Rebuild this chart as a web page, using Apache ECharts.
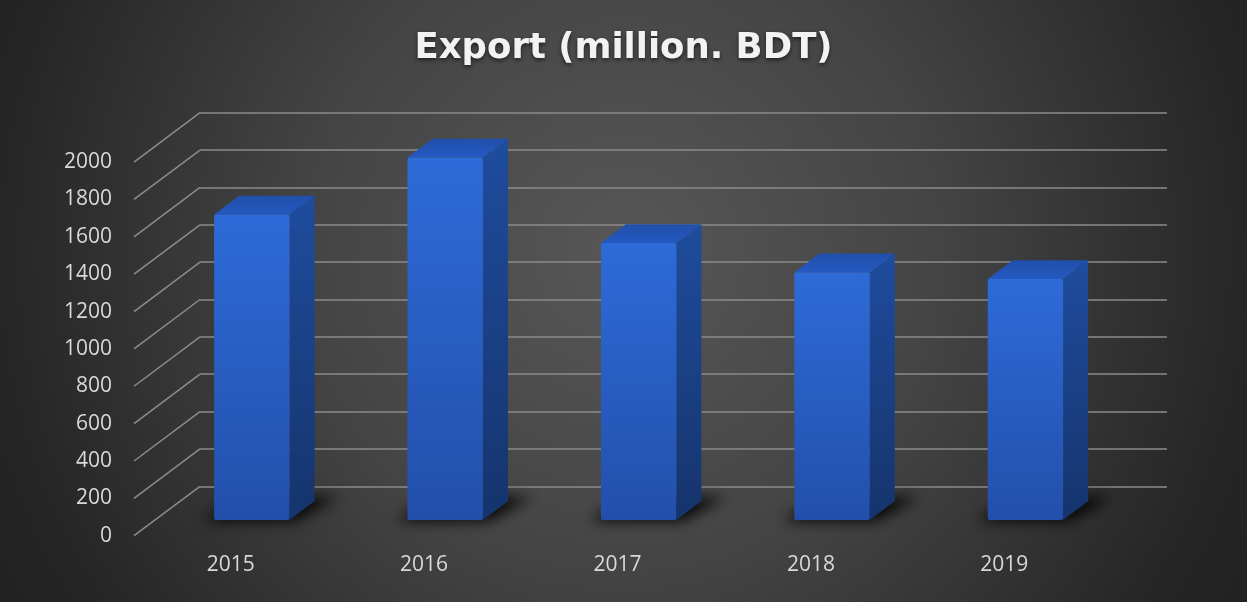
<!DOCTYPE html>
<html>
<head>
<meta charset="utf-8">
<script src="https://cdn.jsdelivr.net/npm/echarts@6/dist/echarts.min.js"></script>
<style>
  html, body { margin: 0; padding: 0; background: #2b2b2b; }
  #chart { width: 1247px; height: 602px; }
</style>
</head>
<body>
<div id="chart"></div>
<script>
// ---- data ----
const years = ['2015', '2016', '2017', '2018', '2019'];
const exportValues = [1635, 1940, 1482, 1325, 1290];
const yTicks = [0, 200, 400, 600, 800, 1000, 1200, 1400, 1600, 1800, 2000];
const titleText = 'Export (million. BDT)';

// ---- oblique 3D layout ----
// offset (px) from the back wall to the front edge of the floor
const DEPTH = [-66, 49.4];
// back wall rectangle
const BACK = { left: 200, right: 80, top: 112.7, bottom: 115.7 };
// the front plane is the back wall pushed forward by DEPTH
const FRONT = {
  left: BACK.left + DEPTH[0],
  right: BACK.right - DEPTH[0],
  top: BACK.top + DEPTH[1],
  bottom: BACK.bottom - DEPTH[1]
};
// bar front/back faces as a fraction of the depth
const BAR_FRONT = 0.68;
const BAR_BACK = 0.30;
const BAR_WIDTH = 0.39; // share of category band
const SHADOW_SHIFT = 4000; // shadow shape drawn off-canvas, only its blur is shown

const FONT = '"Open Sans", "Noto Sans", sans-serif';
const LABEL_COLOR = '#d9d9d9';
const GRID_COLOR = '#8b8b8b';

function renderBar(params, api) {
  const i = api.value(0);
  const v = api.value(1);
  const base = api.coord([i, 0]);
  const top = api.coord([i, v]);
  const w = api.size([1, 0])[0] * BAR_WIDTH;
  const x0 = base[0] - w / 2;
  const x1 = base[0] + w / 2;
  const fdx = DEPTH[0] * BAR_FRONT, fdy = DEPTH[1] * BAR_FRONT;
  const bdx = DEPTH[0] * BAR_BACK, bdy = DEPTH[1] * BAR_BACK;
  const fl = x0 + fdx, fr = x1 + fdx, fb = base[1] + fdy, ft = top[1] + fdy;
  const bl = x0 + bdx, br = x1 + bdx, bb = base[1] + bdy, bt = top[1] + bdy;

  const footprint = [[fl - 12, fb + 1], [fr + 6, fb + 1], [br + 24, bb - 4], [bl + 2, bb - 4]]
    .map(p => [p[0] - SHADOW_SHIFT, p[1]]);

  return {
    type: 'group',
    children: [
      // soft floor shadow
      {
        type: 'polygon',
        shape: { points: footprint },
        style: {
          fill: '#000',
          shadowBlur: 14,
          shadowOffsetX: SHADOW_SHIFT,
          shadowColor: 'rgba(0,0,0,0.9)'
        },
        silent: true
      },
      // right side face
      {
        type: 'polygon',
        shape: { points: [[fr, ft], [br, bt], [br, bb], [fr, fb]] },
        style: {
          fill: {
            type: 'linear', x: 0, y: 0, x2: 0, y2: 1,
            colorStops: [
              { offset: 0, color: '#1f4c9e' },
              { offset: 1, color: '#15346c' }
            ]
          }
        }
      },
      // top face
      {
        type: 'polygon',
        shape: { points: [[fl, ft], [fr, ft], [br, bt], [bl, bt]] },
        style: {
          fill: {
            type: 'linear', x: 0, y: 1, x2: 0, y2: 0,
            colorStops: [
              { offset: 0, color: '#2459c1' },
              { offset: 1, color: '#214fab' }
            ]
          }
        }
      },
      // front face
      {
        type: 'rect',
        shape: { x: fl, y: ft, width: fr - fl, height: fb - ft, r: 2 },
        style: {
          fill: {
            type: 'linear', x: 0, y: 0, x2: 0, y2: 1,
            colorStops: [
              { offset: 0, color: '#2d6bd8' },
              { offset: 1, color: '#234fab' }
            ]
          }
        }
      }
    ]
  };
}

function renderDiagonal(params, api) {
  const y = api.coord([0, api.value(1)])[1];
  const x = params.coordSys.x;
  return {
    type: 'line',
    shape: { x1: x + DEPTH[0], y1: y + DEPTH[1], x2: x, y2: y },
    style: { stroke: GRID_COLOR, lineWidth: 1.5 },
    silent: true
  };
}

const chart = echarts.init(document.getElementById('chart'), null, { renderer: 'canvas' });

chart.setOption({
  animation: false,
  backgroundColor: {
    type: 'radial', x: 0.5, y: 0.42, r: 1.17,
    colorStops: [
      { offset: 0, color: '#575757' },
      { offset: 0.45, color: '#444444' },
      { offset: 0.9, color: '#252525' },
      { offset: 1, color: '#222222' }
    ]
  },
  title: {
    text: titleText,
    left: 'center',
    top: 26,
    textStyle: {
      fontFamily: '"DejaVu Sans", "Open Sans", sans-serif',
      fontSize: 35.5,
      fontWeight: 'bold',
      color: '#f2f2f2',
      textShadowColor: 'rgba(0,0,0,0.6)',
      textShadowBlur: 4,
      textShadowOffsetY: 2
    }
  },
  grid: [
    { left: BACK.left, right: BACK.right, top: BACK.top, bottom: BACK.bottom },
    { left: FRONT.left, right: FRONT.right, top: FRONT.top, bottom: FRONT.bottom }
  ],
  xAxis: [
    {
      gridIndex: 0, type: 'category', data: years,
      axisLine: { show: false }, axisTick: { show: false }, axisLabel: { show: false }
    },
    {
      gridIndex: 1, type: 'category', data: years,
      axisLine: { show: false }, axisTick: { show: false },
      axisLabel: { color: LABEL_COLOR, fontFamily: FONT, fontSize: 21, margin: 19 }
    }
  ],
  yAxis: [
    {
      gridIndex: 0, type: 'value', min: 0, max: 2000, interval: 200,
      axisLine: { show: false }, axisTick: { show: false }, axisLabel: { show: false },
      splitLine: { lineStyle: { color: GRID_COLOR, width: 1.5 } }
    },
    {
      gridIndex: 1, type: 'value', min: 0, max: 2000, interval: 200,
      axisLine: { show: false }, axisTick: { show: false }, splitLine: { show: false },
      axisLabel: {
        color: LABEL_COLOR, fontFamily: FONT, fontSize: 21, margin: 22,
        formatter: v => String(v)
      }
    }
  ],
  series: [
    {
      type: 'custom',
      name: 'gridDiagonals',
      xAxisIndex: 0, yAxisIndex: 0,
      clip: false,
      silent: true,
      z: 1,
      encode: { x: 0, y: 1 },
      data: yTicks.map(t => [0, t]),
      renderItem: renderDiagonal
    },
    {
      type: 'custom',
      name: 'Export',
      xAxisIndex: 0, yAxisIndex: 0,
      clip: false,
      z: 5,
      encode: { x: 0, y: 1 },
      data: exportValues.map((v, i) => [i, v]),
      renderItem: renderBar
    }
  ]
});
</script>
</body>
</html>
